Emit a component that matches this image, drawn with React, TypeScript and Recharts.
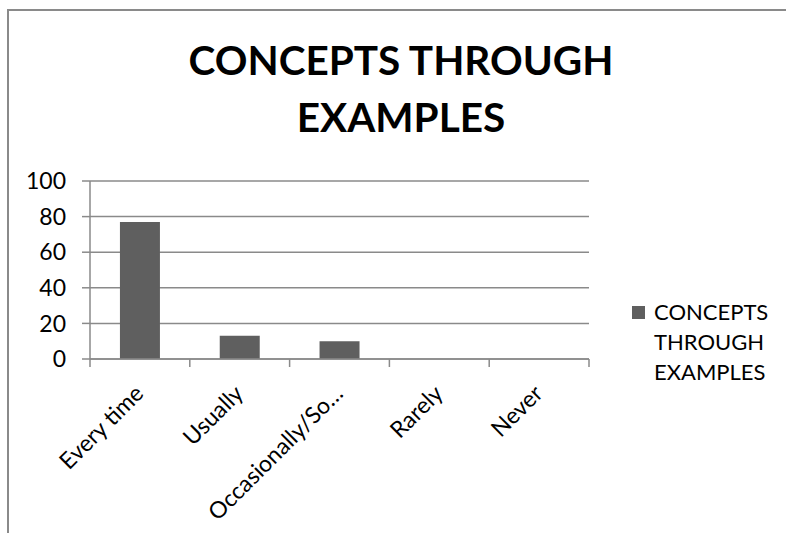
import React from 'react';
import { BarChart, Bar, XAxis, YAxis, CartesianGrid } from 'recharts';

const categories = ['Every time', 'Usually', 'Occasionally/So…', 'Rarely', 'Never'];
const values = [77, 13, 10, 0, 0];
const yTicks = [0, 20, 40, 60, 80, 100];
const seriesName = 'CONCEPTS THROUGH EXAMPLES';
const titleLines = ['CONCEPTS THROUGH', 'EXAMPLES'];
const legendLines = ['CONCEPTS', 'THROUGH', 'EXAMPLES'];

const data = categories.map((name, i) => ({ name, value: values[i] }));

const W = 786;
const H = 533;
const FONT = 'Lato, "Open Sans", sans-serif';
const GRID = '#8a8a8a';
const BAR = '#5f5f5f';
const margin = { top: 181, right: 197, bottom: 74, left: 0 };
const yAxisWidth = 90;
const band = (W - margin.left - margin.right - yAxisWidth) / categories.length;

// category ticks sit on the band edges, labels hang off the centre at -45deg
const XTick = (props: any) => {
    const { x, y, payload, index } = props;
    const left = x - band / 2;
    const ax = x + 5;
    const ay = y + 28;
    return (
        <g>
            <line x1={left} y1={y - 8} x2={left} y2={y} stroke={GRID} strokeWidth={1.5} />
            {index === categories.length - 1 && (
                <line x1={x + band / 2} y1={y - 8} x2={x + band / 2} y2={y} stroke={GRID} strokeWidth={1.5} />
            )}
            <text
                x={ax}
                y={ay}
                textAnchor="end"
                fontSize={23}
                fontFamily={FONT}
                fill="#000"
                transform={`rotate(-45, ${ax}, ${ay})`}
            >
                {payload.value}
            </text>
        </g>
    );
};

export default function App() {
    return (
        <div style={{ position: 'absolute', left: 0, top: 0, width: W, height: H, background: '#fff', overflow: 'hidden' }}>
            {/* frame edges */}
            <div style={{ position: 'absolute', left: 7, top: 9, width: W, height: H, borderTop: `2px solid ${GRID}`, borderLeft: `2px solid ${GRID}` }} />

            {/* title */}
            <div style={{ position: 'absolute', left: 0, top: 31, width: 802, textAlign: 'center', fontFamily: FONT, fontWeight: 700, fontSize: 40.5, lineHeight: '57px', color: '#000' }}>
                {titleLines.map((t) => <div key={t}>{t}</div>)}
            </div>

            <div style={{ position: 'absolute', left: 0, top: 0 }}>
                <BarChart width={W} height={H} data={data} margin={margin} barCategoryGap="30%">
                    <CartesianGrid vertical={false} stroke={GRID} strokeWidth={1.5} />
                    <XAxis
                        dataKey="name"
                        interval={0}
                        height={100}
                        tickSize={8}
                        tickMargin={0}
                        tickLine={false}
                        axisLine={{ stroke: GRID, strokeWidth: 1.5 }}
                        tick={<XTick />}
                    />
                    <YAxis
                        width={yAxisWidth}
                        domain={[0, 100]}
                        ticks={yTicks}
                        interval={0}
                        tickSize={8}
                        tickMargin={16}
                        tickLine={{ stroke: GRID, strokeWidth: 1.5 }}
                        axisLine={{ stroke: GRID, strokeWidth: 1.5 }}
                        tick={{ fill: '#000', fontSize: 23, fontFamily: FONT }}
                    />
                    <Bar dataKey="value" name={seriesName} fill={BAR} isAnimationActive={false} />
                </BarChart>
            </div>

            {/* legend */}
            <div style={{ position: 'absolute', left: 632, top: 297, fontFamily: FONT, fontSize: 22, lineHeight: '30px', color: '#000' }}>
                <div style={{ position: 'absolute', left: 0, top: 9, width: 13, height: 13, background: BAR }} />
                <div style={{ marginLeft: 22 }}>
                    {legendLines.map((t) => <div key={t}>{t}</div>)}
                </div>
            </div>
        </div>
    );
}
